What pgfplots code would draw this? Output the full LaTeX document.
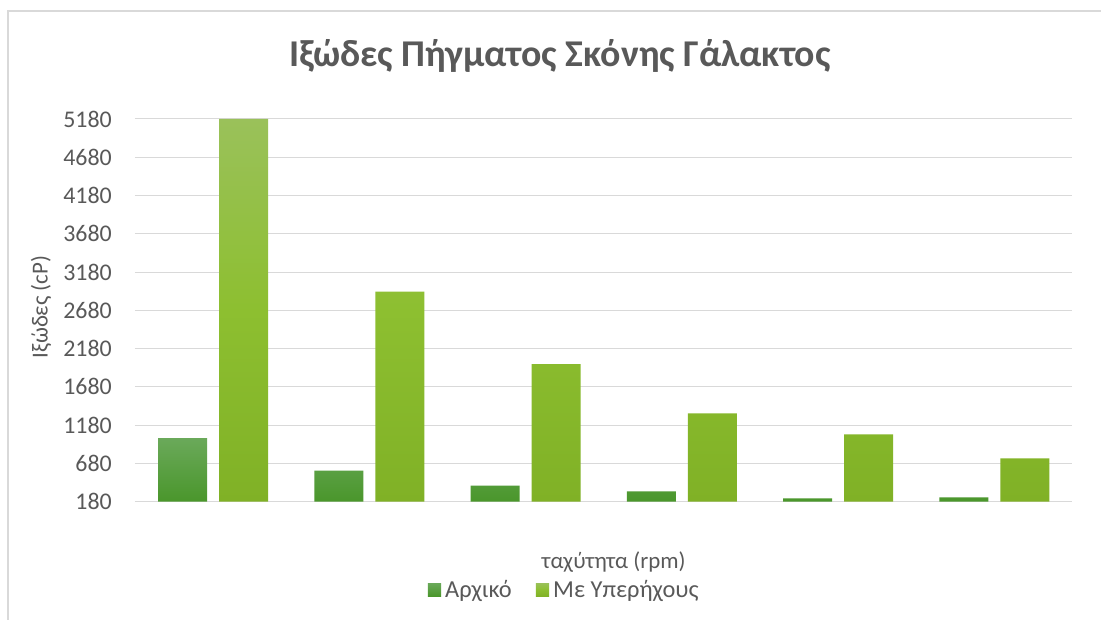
\documentclass[border=0pt]{standalone}
\usepackage{pgfplots}
\pgfplotsset{compat=1.18}
\usepackage{fontspec}
\setmainfont{Carlito}

\definecolor{txtgray}{HTML}{595959}
\definecolor{gridgray}{HTML}{D9D9D9}
\definecolor{frame}{HTML}{D9D9D9}
\definecolor{darkA}{HTML}{4A962B}
\definecolor{darkAtop}{HTML}{6AA95A}
\definecolor{lightB}{HTML}{80B126}
\definecolor{lightBtop}{HTML}{9AC15A}
\definecolor{lightBmid}{HTML}{8DBF30}

\begin{document}
\begin{tikzpicture}
  % page extent and chart frame
  \fill[white] (0bp,0bp) rectangle (1102bp,-620bp);
  \draw[frame, line width=1.2bp] (8bp,-620bp) -- (8bp,-11bp) -- (1102bp,-11bp);

  \begin{axis}[
    at={(135bp,-502bp)}, anchor=south west,
    scale only axis, width=938bp, height=383bp,
    ybar=12bp, bar width=49bp,
    xmin=-0.5, xmax=5.5,
    ymin=180, ymax=5180,
    ytick={180,680,...,5180},
    xtick=\empty,
    axis line style={draw=none},
    major tick length=0pt,
    ymajorgrids, grid style={gridgray, line width=1.1bp},
    /pgf/number format/assume math mode=true,
    /pgf/number format/1000 sep={},
    tick label style={font=\fontsize{24}{26}\selectfont, text=txtgray, inner sep=0pt},
    yticklabel style={xshift=-23bp},
    legend style={at={(0.459,-0.2298)}, anchor=center, draw=none,
      legend columns=2, font=\fontsize{24.5}{26}\selectfont, text=txtgray,
      nodes={inner xsep=4bp, inner ysep=0pt},
      /tikz/every even column/.append style={column sep=20bp},
      inner sep=0pt},
    legend image code/.code={\fill[#1] (0bp,-6.7bp) rectangle (13.4bp,6.7bp);},
    clip=false,
  ]
    % initial viscosity
    \addplot[draw=none, top color=darkAtop, bottom color=darkA]
      coordinates {(0,1010) (1,585) (2,389) (3,314) (4,223) (5,236)};
    % with ultrasound
    \addplot[draw=none, top color=lightBtop, bottom color=lightB,
      middle color=lightBmid]
      coordinates {(0,5180) (1,2926) (2,1979) (3,1333) (4,1059) (5,745)};
    \legend{Αρχικό, Με Υπερήχους}
  \end{axis}

  \node[text=txtgray, font=\fontsize{38}{42}\selectfont\bfseries] at (560bp,-56bp)
    {Ιξώδες Πήγματος Σκόνης Γάλακτος};
  \node[text=txtgray, font=\fontsize{23}{25}\selectfont, rotate=90] at (41bp,-307bp)
    {Ιξώδες (cP)};
  \node[text=txtgray, font=\fontsize{23}{25}\selectfont] at (614bp,-562bp)
    {ταχύτητα (rpm)};
\end{tikzpicture}
\end{document}
